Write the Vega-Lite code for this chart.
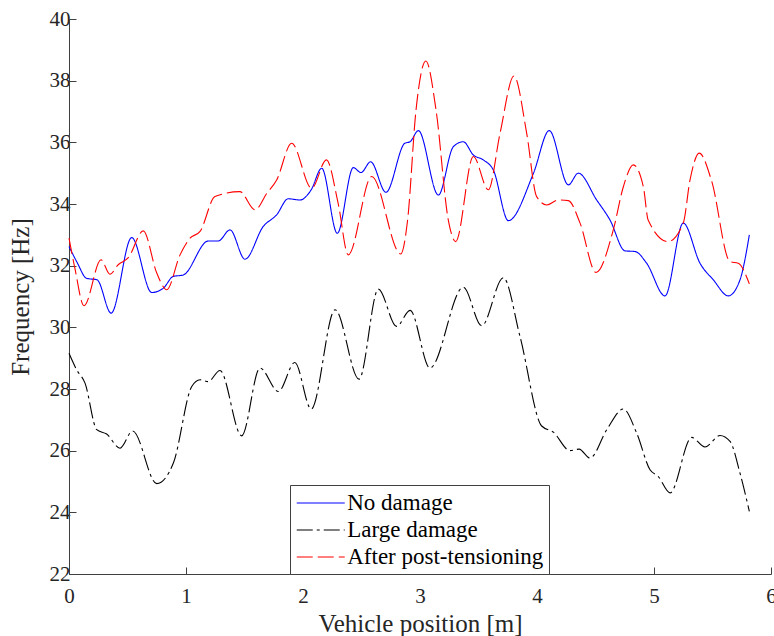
{
  "$schema": "https://vega.github.io/schema/vega-lite/v6.json",
  "width": 702,
  "height": 555,
  "autosize": {"type": "none"},
  "padding": {"left": 69, "top": 19, "right": 3, "bottom": 62},
  "background": "white",
  "config": {
    "view": {"stroke": null},
    "axis": {
      "grid": false,
      "domainColor": "#404040",
      "tickColor": "#404040",
      "labelFont": "Liberation Serif, Times New Roman, serif",
      "labelFontSize": 21,
      "labelColor": "#262626",
      "titleFont": "Liberation Serif, Times New Roman, serif",
      "titleFontSize": 25,
      "titleFontWeight": "normal",
      "titleColor": "#262626"
    }
  },
  "data": {"values": [
    {"x":0.0,"y":32.62,"s":"No damage"},{"x":0.07,"y":32.1,"s":"No damage"},{"x":0.15,"y":31.59,"s":"No damage"},{"x":0.24,"y":31.54,"s":"No damage"},{"x":0.36,"y":30.46,"s":"No damage"},{"x":0.536,"y":32.91,"s":"No damage"},{"x":0.707,"y":31.13,"s":"No damage"},{"x":0.806,"y":31.27,"s":"No damage"},{"x":0.89,"y":31.65,"s":"No damage"},{"x":0.977,"y":31.7,"s":"No damage"},{"x":1.19,"y":32.8,"s":"No damage"},{"x":1.276,"y":32.8,"s":"No damage"},{"x":1.376,"y":33.16,"s":"No damage"},{"x":1.504,"y":32.21,"s":"No damage"},{"x":1.66,"y":33.27,"s":"No damage"},{"x":1.775,"y":33.65,"s":"No damage"},{"x":1.874,"y":34.17,"s":"No damage"},{"x":1.974,"y":34.13,"s":"No damage"},{"x":2.07,"y":34.46,"s":"No damage"},{"x":2.16,"y":35.16,"s":"No damage"},{"x":2.293,"y":33.05,"s":"No damage"},{"x":2.43,"y":35.18,"s":"No damage"},{"x":2.496,"y":35.02,"s":"No damage"},{"x":2.578,"y":35.37,"s":"No damage"},{"x":2.709,"y":34.38,"s":"No damage"},{"x":2.87,"y":35.97,"s":"No damage"},{"x":2.915,"y":36.02,"s":"No damage"},{"x":2.986,"y":36.38,"s":"No damage"},{"x":3.157,"y":34.29,"s":"No damage"},{"x":3.285,"y":35.86,"s":"No damage"},{"x":3.37,"y":36.02,"s":"No damage"},{"x":3.456,"y":35.59,"s":"No damage"},{"x":3.541,"y":35.43,"s":"No damage"},{"x":3.627,"y":35.1,"s":"No damage"},{"x":3.755,"y":33.46,"s":"No damage"},{"x":3.97,"y":35.0,"s":"No damage"},{"x":4.105,"y":36.38,"s":"No damage"},{"x":4.268,"y":34.62,"s":"No damage"},{"x":4.353,"y":35.0,"s":"No damage"},{"x":4.51,"y":34.13,"s":"No damage"},{"x":4.624,"y":33.48,"s":"No damage"},{"x":4.752,"y":32.48,"s":"No damage"},{"x":4.838,"y":32.46,"s":"No damage"},{"x":4.937,"y":32.08,"s":"No damage"},{"x":5.094,"y":31.02,"s":"No damage"},{"x":5.25,"y":33.38,"s":"No damage"},{"x":5.393,"y":32.08,"s":"No damage"},{"x":5.507,"y":31.54,"s":"No damage"},{"x":5.635,"y":31.02,"s":"No damage"},{"x":5.735,"y":31.54,"s":"No damage"},{"x":5.815,"y":33.0,"s":"No damage"},

    {"x":0.0,"y":29.16,"s":"Large damage"},{"x":0.066,"y":28.62,"s":"Large damage"},{"x":0.137,"y":28.19,"s":"Large damage"},{"x":0.237,"y":26.68,"s":"Large damage"},{"x":0.322,"y":26.54,"s":"Large damage"},{"x":0.436,"y":26.08,"s":"Large damage"},{"x":0.544,"y":26.64,"s":"Large damage"},{"x":0.75,"y":24.93,"s":"Large damage"},{"x":0.892,"y":25.6,"s":"Large damage"},{"x":1.049,"y":28.08,"s":"Large damage"},{"x":1.12,"y":28.3,"s":"Large damage"},{"x":1.19,"y":28.24,"s":"Large damage"},{"x":1.29,"y":28.6,"s":"Large damage"},{"x":1.476,"y":26.48,"s":"Large damage"},{"x":1.632,"y":28.68,"s":"Large damage"},{"x":1.79,"y":27.92,"s":"Large damage"},{"x":1.93,"y":28.86,"s":"Large damage"},{"x":2.07,"y":27.35,"s":"Large damage"},{"x":2.274,"y":30.57,"s":"Large damage"},{"x":2.479,"y":28.32,"s":"Large damage"},{"x":2.644,"y":31.24,"s":"Large damage"},{"x":2.8,"y":30.03,"s":"Large damage"},{"x":2.915,"y":30.55,"s":"Large damage"},{"x":3.085,"y":28.68,"s":"Large damage"},{"x":3.37,"y":31.3,"s":"Large damage"},{"x":3.527,"y":30.05,"s":"Large damage"},{"x":3.712,"y":31.61,"s":"Large damage"},{"x":3.855,"y":29.7,"s":"Large damage"},{"x":4.04,"y":26.8,"s":"Large damage"},{"x":4.14,"y":26.6,"s":"Large damage"},{"x":4.282,"y":26.0,"s":"Large damage"},{"x":4.36,"y":26.05,"s":"Large damage"},{"x":4.453,"y":25.76,"s":"Large damage"},{"x":4.596,"y":26.68,"s":"Large damage"},{"x":4.738,"y":27.35,"s":"Large damage"},{"x":4.852,"y":26.57,"s":"Large damage"},{"x":4.966,"y":25.38,"s":"Large damage"},{"x":5.037,"y":25.16,"s":"Large damage"},{"x":5.137,"y":24.63,"s":"Large damage"},{"x":5.322,"y":26.43,"s":"Large damage"},{"x":5.436,"y":26.12,"s":"Large damage"},{"x":5.564,"y":26.49,"s":"Large damage"},{"x":5.65,"y":26.3,"s":"Large damage"},{"x":5.735,"y":25.27,"s":"Large damage"},{"x":5.815,"y":24.03,"s":"Large damage"},

    {"x":0.0,"y":32.89,"s":"After post-tensioning"},{"x":0.05,"y":31.92,"s":"After post-tensioning"},{"x":0.128,"y":30.7,"s":"After post-tensioning"},{"x":0.274,"y":32.19,"s":"After post-tensioning"},{"x":0.35,"y":31.72,"s":"After post-tensioning"},{"x":0.42,"y":32.03,"s":"After post-tensioning"},{"x":0.507,"y":32.26,"s":"After post-tensioning"},{"x":0.635,"y":33.13,"s":"After post-tensioning"},{"x":0.75,"y":31.76,"s":"After post-tensioning"},{"x":0.835,"y":31.22,"s":"After post-tensioning"},{"x":0.949,"y":32.35,"s":"After post-tensioning"},{"x":1.034,"y":32.89,"s":"After post-tensioning"},{"x":1.12,"y":33.11,"s":"After post-tensioning"},{"x":1.248,"y":34.24,"s":"After post-tensioning"},{"x":1.46,"y":34.4,"s":"After post-tensioning"},{"x":1.59,"y":33.81,"s":"After post-tensioning"},{"x":1.69,"y":34.34,"s":"After post-tensioning"},{"x":1.775,"y":34.78,"s":"After post-tensioning"},{"x":1.903,"y":35.97,"s":"After post-tensioning"},{"x":2.074,"y":34.51,"s":"After post-tensioning"},{"x":2.2,"y":35.43,"s":"After post-tensioning"},{"x":2.3,"y":34.03,"s":"After post-tensioning"},{"x":2.387,"y":32.35,"s":"After post-tensioning"},{"x":2.587,"y":34.89,"s":"After post-tensioning"},{"x":2.835,"y":32.38,"s":"After post-tensioning"},{"x":2.894,"y":33.48,"s":"After post-tensioning"},{"x":2.966,"y":37.05,"s":"After post-tensioning"},{"x":3.05,"y":38.64,"s":"After post-tensioning"},{"x":3.137,"y":37.05,"s":"After post-tensioning"},{"x":3.242,"y":33.48,"s":"After post-tensioning"},{"x":3.305,"y":32.78,"s":"After post-tensioning"},{"x":3.456,"y":35.54,"s":"After post-tensioning"},{"x":3.584,"y":34.46,"s":"After post-tensioning"},{"x":3.684,"y":36.29,"s":"After post-tensioning"},{"x":3.803,"y":38.15,"s":"After post-tensioning"},{"x":3.912,"y":36.29,"s":"After post-tensioning"},{"x":3.997,"y":34.24,"s":"After post-tensioning"},{"x":4.083,"y":33.97,"s":"After post-tensioning"},{"x":4.182,"y":34.13,"s":"After post-tensioning"},{"x":4.268,"y":34.11,"s":"After post-tensioning"},{"x":4.368,"y":33.38,"s":"After post-tensioning"},{"x":4.504,"y":31.78,"s":"After post-tensioning"},{"x":4.652,"y":33.16,"s":"After post-tensioning"},{"x":4.738,"y":34.56,"s":"After post-tensioning"},{"x":4.823,"y":35.27,"s":"After post-tensioning"},{"x":4.909,"y":34.56,"s":"After post-tensioning"},{"x":4.95,"y":33.48,"s":"After post-tensioning"},{"x":5.12,"y":32.78,"s":"After post-tensioning"},{"x":5.25,"y":33.38,"s":"After post-tensioning"},{"x":5.308,"y":34.78,"s":"After post-tensioning"},{"x":5.387,"y":35.65,"s":"After post-tensioning"},{"x":5.49,"y":34.78,"s":"After post-tensioning"},{"x":5.65,"y":32.13,"s":"After post-tensioning"},{"x":5.72,"y":32.08,"s":"After post-tensioning"},{"x":5.815,"y":31.41,"s":"After post-tensioning"}
  ]},
  "mark": {"type": "line", "interpolate": "monotone", "strokeWidth": 1.1},
  "encoding": {
    "x": {
      "field": "x", "type": "quantitative",
      "scale": {"domain": [0, 6], "nice": false, "zero": false},
      "axis": {"values": [0,1,2,3,4,5,6], "tickSize": -7, "labelPadding": 18, "labelFlush": false, "title": "Vehicle position [m]", "titleY": 57, "titleBaseline": "alphabetic"}
    },
    "y": {
      "field": "y", "type": "quantitative",
      "scale": {"domain": [22, 40], "nice": false, "zero": false},
      "axis": {"values": [22,24,26,28,30,32,34,36,38,40], "tickSize": -7, "labelPadding": 6, "labelFlush": false, "title": "Frequency  [Hz]", "titleX": -36}
    },
    "color": {
      "field": "s", "type": "nominal",
      "scale": {"domain": ["No damage", "Large damage", "After post-tensioning"], "range": ["#0000ff", "#000000", "#ff0000"]},
      "legend": {
        "title": null, "orient": "none", "legendX": 221, "legendY": 466,
        "symbolType": "M-1.96,0H1.96", "symbolSize": 600, "symbolStrokeWidth": 1.2, "symbolOffset": 12.75,
        "labelFont": "Liberation Serif, Times New Roman, serif", "labelFontSize": 23, "labelColor": "#000000", "labelLimit": 400,
        "strokeColor": "#404040", "fillColor": "white", "padding": 5, "rowPadding": 2, "labelOffset": 13.5
      }
    },
    "strokeDash": {
      "field": "s", "type": "nominal",
      "scale": {"domain": ["No damage", "Large damage", "After post-tensioning"], "range": [[1,0], [16,4,3,4], [16,5]]},
      "legend": null
    }
  }
}
